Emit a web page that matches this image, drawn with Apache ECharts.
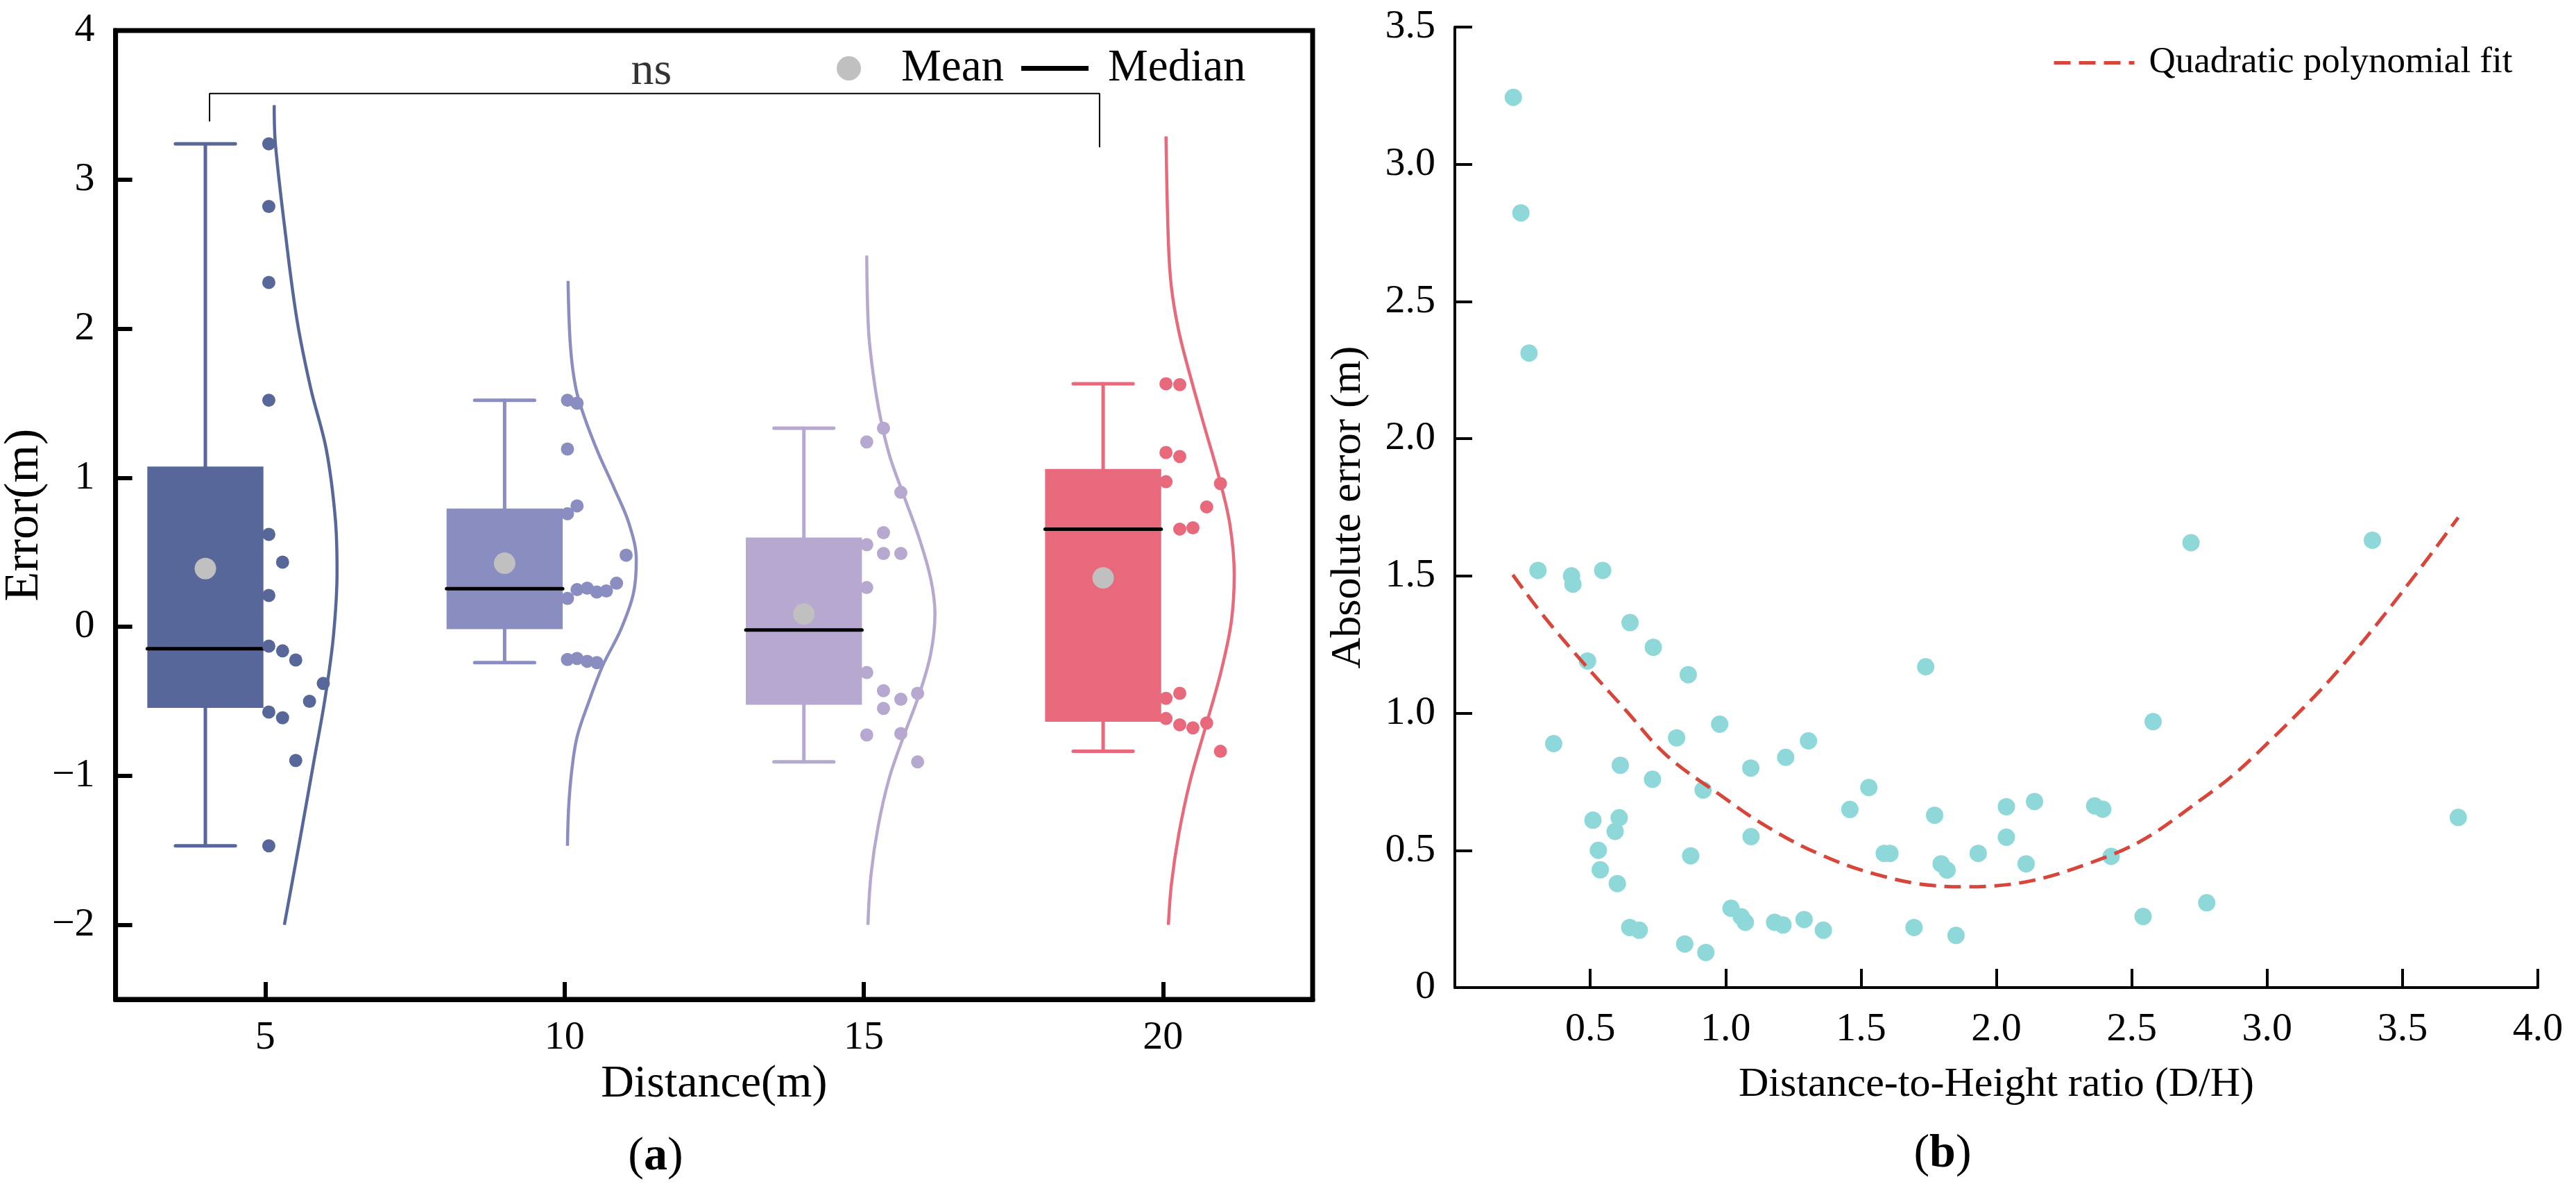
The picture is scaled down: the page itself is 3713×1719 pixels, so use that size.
<!DOCTYPE html>
<html>
<head>
<meta charset="utf-8">
<script src="https://cdn.jsdelivr.net/npm/echarts@6/dist/echarts.min.js"></script>
<style>
  html, body { margin: 0; padding: 0; background: #fff; }
  #main { width: 3713px; height: 1719px; }
</style>
</head>
<body>
<div id="main"></div>
<script>
// ---- panel (a): box + points + half density per distance ----
var groupNames = ["5 m", "10 m", "15 m", "20 m"];
var groupColors = ["#586799", "#8a8dbf", "#b6a8cf", "#e8697b"];
// [centre, lower whisker, Q1, median, Q3, upper whisker]
var boxStats = [
    [4, -1.47, -0.544, -0.148, 1.075, 3.24],
    [9, -0.241, -0.016, 0.255, 0.793, 1.52],
    [14, -0.907, -0.524, -0.022, 0.599, 1.332],
    [19, -0.836, -0.637, 0.655, 1.059, 1.63]
];
var meanVals = [[4, 0.39], [9, 0.426], [14, 0.085], [19, 0.328]];

var points5 = [[5.06, 3.24], [5.06, 2.82], [5.06, 2.31], [5.06, 1.52], [5.06, 0.62], [5.29, 0.433],
    [5.06, 0.21], [5.06, -0.13], [5.29, -0.162], [5.51, -0.223], [5.97, -0.38], [5.74, -0.50],
    [5.06, -0.572], [5.29, -0.611], [5.51, -0.897], [5.06, -1.47]];
var points10 = [[10.05, 1.52], [10.21, 1.50], [10.05, 1.192], [10.21, 0.811], [10.05, 0.758], [11.03, 0.48],
    [10.87, 0.292], [10.21, 0.249], [10.38, 0.259], [10.54, 0.233], [10.70, 0.24], [10.05, 0.19],
    [10.05, -0.22], [10.21, -0.213], [10.38, -0.232], [10.54, -0.241]];
var points15 = [[15.33, 1.332], [15.05, 1.24], [15.62, 0.902], [15.33, 0.631], [15.05, 0.551], [15.33, 0.492],
    [15.62, 0.492], [15.05, 0.263], [15.05, -0.307], [15.33, -0.429], [15.62, -0.486], [15.90, -0.447],
    [15.33, -0.548], [15.05, -0.726], [15.62, -0.717], [15.90, -0.907]];
var points20 = [[20.05, 1.63], [20.28, 1.624], [20.05, 1.169], [20.28, 1.142], [20.05, 0.973], [20.96, 0.961],
    [20.73, 0.804], [20.28, 0.655], [20.50, 0.664], [20.28, -0.447], [20.05, -0.48], [20.05, -0.616],
    [20.28, -0.658], [20.50, -0.678], [20.73, -0.646], [20.96, -0.836]];

var density5 = [[5.15, 3.50], [5.17, 3.24], [5.34, 2.63], [5.53, 2.06], [5.76, 1.60], [6.02, 1.19], [6.17, 0.73],
    [6.20, 0.37], [6.14, -0.06], [6.00, -0.48], [5.81, -0.91], [5.57, -1.45], [5.32, -2.0]];
var density10 = [[10.06, 2.32], [10.10, 1.88], [10.19, 1.60], [10.33, 1.41], [10.56, 1.17], [10.83, 0.93],
    [11.08, 0.69], [11.20, 0.45], [11.15, 0.22], [10.94, -0.02], [10.64, -0.26], [10.41, -0.50],
    [10.21, -0.74], [10.12, -0.97], [10.07, -1.21], [10.05, -1.47]];
var density15 = [[15.05, 2.49], [15.08, 1.99], [15.16, 1.69], [15.27, 1.42], [15.43, 1.15], [15.66, 0.89],
    [15.93, 0.59], [16.12, 0.32], [16.19, 0.09], [16.12, -0.18], [15.93, -0.45], [15.68, -0.72],
    [15.43, -1.01], [15.24, -1.34], [15.12, -1.67], [15.07, -2.0]];
var density20 = [[20.05, 3.29], [20.09, 2.58], [20.14, 2.28], [20.26, 1.99], [20.45, 1.69], [20.68, 1.36],
    [20.95, 0.98], [21.12, 0.68], [21.19, 0.35], [21.14, 0.03], [20.97, -0.30], [20.72, -0.66],
    [20.45, -1.04], [20.26, -1.40], [20.14, -1.73], [20.09, -2.0]];

var bracket = [[4.07, 3.39], [4.07, 3.577], [18.94, 3.577], [18.94, 3.217]];
var nsLabel = [[11.45, 3.72]];

// ---- panel (b): absolute error vs D/H ----
var ratioError = [
    [0.216, 3.244], [0.244, 2.823], [0.274, 2.312],
    [0.307, 1.52], [0.431, 1.50], [0.436, 1.47], [0.546, 1.52], [0.647, 1.33], [0.733, 1.24],
    [0.490, 1.19], [0.862, 1.14], [0.978, 0.96], [0.365, 0.889], [0.819, 0.91], [1.306, 0.899],
    [1.222, 0.839], [1.093, 0.80], [0.611, 0.81], [0.730, 0.759], [0.917, 0.72], [1.529, 0.729],
    [1.459, 0.649], [1.772, 0.628], [0.510, 0.61], [0.607, 0.619], [0.592, 0.569], [1.094, 0.55],
    [0.530, 0.50], [0.871, 0.48], [1.586, 0.489], [1.607, 0.489], [1.796, 0.451], [0.537, 0.429],
    [0.600, 0.379], [1.020, 0.289], [1.058, 0.258], [1.073, 0.238], [1.181, 0.238], [1.212, 0.228],
    [1.290, 0.248], [1.361, 0.209], [1.696, 0.219], [0.646, 0.219], [0.681, 0.209], [0.849, 0.159],
    [0.927, 0.128],
    [1.739, 1.169], [2.719, 1.621], [3.389, 1.63], [3.706, 0.62], [2.579, 0.969], [2.141, 0.678],
    [2.037, 0.659], [2.363, 0.662], [2.393, 0.65], [2.037, 0.548], [1.933, 0.489], [2.11, 0.451],
    [2.424, 0.478], [2.542, 0.259], [2.777, 0.309], [1.851, 0.19], [1.818, 0.428]
];
var fitCurve = [[0.214, 1.504], [0.331, 1.35], [0.480, 1.177], [0.631, 1.011], [0.779, 0.849],
    [0.974, 0.706], [1.157, 0.584], [1.352, 0.484], [1.558, 0.412], [1.776, 0.371], [1.89, 0.367],
    [2.411, 0.478], [2.777, 0.70], [3.02, 0.908], [3.325, 1.227], [3.706, 1.713]];

var serif = "Liberation Serif";
var boxHalf = 0.97, capHalf = 0.5;

function renderBox(params, api) {
    var c = api.value(0), lo = api.value(1), q1 = api.value(2),
        med = api.value(3), q3 = api.value(4), hi = api.value(5);
    var col = groupColors[params.dataIndex];
    var p = function (x, y) { return api.coord([x, y]); };
    function seg(a, b, color, w) {
        return { type: "line", shape: { x1: a[0], y1: a[1], x2: b[0], y2: b[1] },
                 style: { stroke: color, lineWidth: w, lineCap: "round" } };
    }
    var tl = p(c - boxHalf, q3), br = p(c + boxHalf, q1);
    return { type: "group", children: [
        seg(p(c, hi), p(c, q3), col, 5),
        seg(p(c, q1), p(c, lo), col, 5),
        seg(p(c - capHalf, hi), p(c + capHalf, hi), col, 5),
        seg(p(c - capHalf, lo), p(c + capHalf, lo), col, 5),
        { type: "rect", shape: { x: tl[0], y: tl[1], width: br[0] - tl[0], height: br[1] - tl[1] },
          style: { fill: col } },
        seg(p(c - boxHalf, med), p(c + boxHalf, med), "#000", 5)
    ]};
}

var pointSets = [points5, points10, points15, points20];
var densitySets = [density5, density10, density15, density20];

var series = [{
    name: "Median", type: "custom", xAxisIndex: 0, yAxisIndex: 0,
    itemStyle: { color: "#000" },
    renderItem: renderBox, data: boxStats, z: 2
}];
for (var i = 0; i < 4; i++) {
    series.push({
        name: groupNames[i], type: "line", xAxisIndex: 0, yAxisIndex: 0,
        data: densitySets[i], smooth: 0.35, symbol: "none",
        lineStyle: { color: groupColors[i], width: 4.5 }, z: 3
    });
    series.push({
        name: groupNames[i] + " pts", type: "scatter", xAxisIndex: 0, yAxisIndex: 0,
        data: pointSets[i], symbolSize: 19,
        itemStyle: { color: groupColors[i], opacity: 1 }, z: 4
    });
}
series.push({
    name: "Mean", type: "scatter", xAxisIndex: 0, yAxisIndex: 0,
    data: meanVals, symbolSize: 31, itemStyle: { color: "#c0c0c0", opacity: 1 }, z: 5
});
series.push({
    name: "bracket", type: "line", xAxisIndex: 0, yAxisIndex: 0,
    data: bracket, symbol: "none", lineStyle: { color: "#000", width: 2 }, z: 3
});
series.push({
    name: "ns", type: "scatter", xAxisIndex: 0, yAxisIndex: 0,
    data: nsLabel, symbolSize: 1, itemStyle: { color: "rgba(0,0,0,0)" },
    label: { show: true, position: "inside", formatter: "ns", fontFamily: serif,
             fontSize: 66, color: "#000" }
});
series.push({
    name: "points", type: "scatter", xAxisIndex: 1, yAxisIndex: 1,
    data: ratioError, symbolSize: 25, itemStyle: { color: "#8ed8da", opacity: 1 }, z: 3
});
series.push({
    name: "Quadratic polynomial fit", type: "line", xAxisIndex: 1, yAxisIndex: 1,
    data: fitCurve, smooth: 0.4, symbol: "none",
    lineStyle: { color: "#d8453b", width: 5, type: [24, 12] },
    itemStyle: { color: "#d8453b" }, z: 4
});

var option = {
    animation: false,
    backgroundColor: "#fff",
    textStyle: { fontFamily: serif, color: "#000" },
    grid: [
        { left: 153, top: 44, width: 1739, height: 1396, show: true,
          borderColor: "#000", borderWidth: 7, backgroundColor: "rgba(0,0,0,0)" },
        { left: 2097, top: 39, width: 1561, height: 1384 }
    ],
    legend: [
        { data: [{ name: "Mean", icon: "circle" }], left: 1206, top: 66, selectedMode: false,
          itemWidth: 35, itemHeight: 35, padding: 0,
          textStyle: { fontFamily: serif, fontSize: 65, color: "#000", padding: [0, 0, 0, 53] } },
        { data: [{ name: "Median", icon: "rect" }], left: 1472, top: 66, selectedMode: false,
          itemWidth: 97, itemHeight: 7, padding: 0,
          textStyle: { fontFamily: serif, fontSize: 65, color: "#000", padding: [0, 0, 0, 23] } },
        { data: ["Quadratic polynomial fit"], left: 2958, top: 64, selectedMode: false,
          itemWidth: 116, itemHeight: 14, padding: 0,
          itemStyle: { color: "rgba(0,0,0,0)", borderWidth: 0 },
          lineStyle: { color: "#d8453b", width: 5, type: [24, 12] },
          textStyle: { fontFamily: serif, fontSize: 53, color: "#000", padding: [0, 0, 0, 16] } }
    ],
    xAxis: [
        { type: "value", gridIndex: 0, min: 2.5, max: 22.5, splitNumber: 4, position: "bottom",
          name: "Distance(m)", nameLocation: "middle", nameGap: 88,
          nameTextStyle: { fontFamily: serif, fontSize: 66, color: "#000" },
          axisLine: { show: true, onZero: false, lineStyle: { color: "#000", width: 7 } },
          axisTick: { show: true, inside: true, length: 25, lineStyle: { color: "#000", width: 6 } },
          axisLabel: { fontFamily: serif, fontSize: 58, color: "#000", margin: 27,
                       formatter: function (v) { return v % 5 === 0 ? String(v) : ""; } },
          splitLine: { show: false } },
        { type: "value", gridIndex: 1, min: 0, max: 4, interval: 0.5, position: "bottom",
          name: "Distance-to-Height ratio (D/H)", nameLocation: "middle", nameGap: 110,
          nameTextStyle: { fontFamily: serif, fontSize: 60, color: "#000" },
          axisLine: { show: true, onZero: false, lineStyle: { color: "#000", width: 4 } },
          axisTick: { show: true, inside: true, length: 27, lineStyle: { color: "#000", width: 4 } },
          axisLabel: { fontFamily: serif, fontSize: 58, color: "#000", margin: 32, showMinLabel: false,
                       formatter: function (v) { return v.toFixed(1); } },
          splitLine: { show: false } }
    ],
    yAxis: [
        { type: "value", gridIndex: 0, min: -2.5, max: 4, splitNumber: 6, position: "left",
          name: "Error(m)", nameLocation: "middle", nameGap: 70,
          nameTextStyle: { fontFamily: serif, fontSize: 70, color: "#000" },
          axisLine: { show: true, onZero: false, lineStyle: { color: "#000", width: 7 } },
          axisTick: { show: true, inside: true, length: 24, lineStyle: { color: "#000", width: 6 } },
          axisLabel: { fontFamily: serif, fontSize: 58, color: "#000", margin: 30,
                       formatter: function (v) {
                           if (v % 1 !== 0) return "";
                           return v < 0 ? "\u2212" + Math.abs(v) : String(v);
                       } },
          splitLine: { show: false } },
        { type: "value", gridIndex: 1, min: 0, max: 3.5, interval: 0.5, position: "left",
          name: "Absolute error (m)", nameLocation: "middle", nameGap: 122,
          nameTextStyle: { fontFamily: serif, fontSize: 62, color: "#000" },
          axisLine: { show: true, onZero: false, lineStyle: { color: "#000", width: 4 } },
          axisTick: { show: true, inside: true, length: 25, lineStyle: { color: "#000", width: 4 } },
          axisLabel: { fontFamily: serif, fontSize: 58, color: "#000", margin: 28,
                       formatter: function (v) { return v === 0 ? "0" : v.toFixed(1); } },
          splitLine: { show: false } }
    ],
    graphic: [
        { type: "text", x: 945, y: 1667,
          style: { text: "{n|(}{b|a}{n|)}", textAlign: "center", textVerticalAlign: "middle",
                   rich: { n: { fontFamily: serif, fontSize: 68, fill: "#000" },
                           b: { fontFamily: serif, fontSize: 68, fontWeight: "bold", fill: "#000" } } } },
        { type: "text", x: 2800, y: 1663,
          style: { text: "{n|(}{b|b}{n|)}", textAlign: "center", textVerticalAlign: "middle",
                   rich: { n: { fontFamily: serif, fontSize: 68, fill: "#000" },
                           b: { fontFamily: serif, fontSize: 68, fontWeight: "bold", fill: "#000" } } } }
    ],
    series: series
};

var chart = echarts.init(document.getElementById("main"));
chart.setOption(option);
</script>
</body>
</html>
